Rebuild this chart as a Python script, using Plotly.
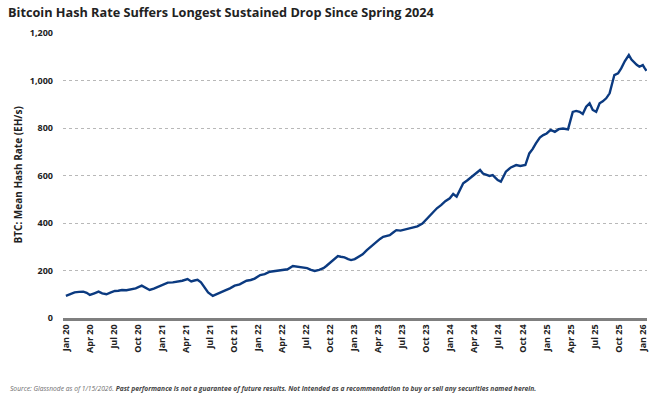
import plotly.graph_objects as go

dates = [
    "2020-01-01", "2020-01-18", "2020-02-03", "2020-02-20", "2020-03-07", "2020-03-20", "2020-04-01",
    "2020-04-18", "2020-05-04", "2020-05-18", "2020-06-03", "2020-06-20", "2020-07-05", "2020-07-18",
    "2020-08-01", "2020-08-18", "2020-09-06", "2020-09-22", "2020-10-15", "2020-10-30", "2020-11-14",
    "2020-11-30", "2020-12-15", "2021-01-05", "2021-01-22", "2021-02-10", "2021-02-28", "2021-03-18",
    "2021-04-07", "2021-04-21", "2021-05-03", "2021-05-15", "2021-05-28", "2021-06-09", "2021-06-24",
    "2021-07-12", "2021-07-28", "2021-08-10", "2021-08-26", "2021-09-15", "2021-10-03", "2021-10-22",
    "2021-11-05", "2021-11-17", "2021-12-03", "2021-12-18", "2022-01-08", "2022-01-25", "2022-02-14",
    "2022-03-05", "2022-03-20", "2022-04-04", "2022-04-22", "2022-05-12", "2022-05-28", "2022-06-18",
    "2022-07-05", "2022-07-20", "2022-08-03", "2022-08-20", "2022-09-05", "2022-09-16", "2022-10-05",
    "2022-10-18", "2022-10-30", "2022-11-10", "2022-11-24", "2022-12-08", "2022-12-19", "2023-01-02",
    "2023-01-14", "2023-02-01", "2023-02-17", "2023-03-08", "2023-03-27", "2023-04-08", "2023-04-20",
    "2023-05-02", "2023-05-15", "2023-05-28", "2023-06-09", "2023-06-25", "2023-07-16", "2023-07-28",
    "2023-08-11", "2023-08-28", "2023-09-16", "2023-10-05", "2023-10-26", "2023-11-10", "2023-11-27",
    "2023-12-12", "2023-12-29", "2024-01-11", "2024-01-24", "2024-02-05", "2024-02-18", "2024-03-05",
    "2024-03-26", "2024-04-10", "2024-04-22", "2024-05-03", "2024-05-15", "2024-05-28", "2024-06-09",
    "2024-06-28", "2024-07-10", "2024-07-29", "2024-08-17", "2024-09-06", "2024-09-22", "2024-10-11",
    "2024-10-26", "2024-11-08", "2024-11-20", "2024-12-05", "2024-12-18", "2024-12-31", "2025-01-15",
    "2025-01-31", "2025-02-15", "2025-03-03", "2025-03-22", "2025-04-09", "2025-04-22", "2025-05-05",
    "2025-05-17", "2025-05-30", "2025-06-12", "2025-06-24", "2025-07-07", "2025-07-20", "2025-08-01",
    "2025-08-14", "2025-08-27", "2025-09-05", "2025-09-14", "2025-09-28", "2025-10-10", "2025-10-24",
    "2025-11-01", "2025-11-08", "2025-11-18", "2025-11-30", "2025-12-08", "2025-12-18", "2025-12-31",
    "2026-01-07", "2026-01-14",
]

hash_rate = [
    93, 101, 108, 110, 111, 106, 97,
    104, 111, 104, 100, 108, 114, 115,
    118, 117, 121, 125, 136, 128, 118,
    124, 132, 140, 149, 150, 153, 157,
    164, 154, 158, 161, 150, 132, 108,
    93, 100, 108, 115, 125, 136, 142,
    150, 157, 160, 166, 181, 185, 195,
    198, 199, 202, 205, 219, 216, 212,
    210, 203, 198, 203, 210, 219, 238,
    252, 261, 258, 255, 248, 244, 248,
    255, 268, 286, 305, 324, 333, 342,
    344, 349, 360, 370, 368, 373, 377,
    380, 386, 398, 420, 447, 462, 476,
    492, 504, 522, 511, 540, 567, 580,
    598, 612, 623, 608, 602, 598, 602,
    581, 574, 616, 634, 644, 640, 644,
    693, 712, 735, 760, 770, 777, 792,
    784, 795, 798, 794, 868, 872, 868,
    859, 890, 904, 876, 868, 904, 912,
    925, 946, 985, 1023, 1030, 1051, 1082,
    1097, 1107, 1088, 1072, 1066, 1058, 1065,
    1052, 1041,
]

tick_dates = [
    "2020-01-01", "2020-04-01", "2020-07-01", "2020-10-01",
    "2021-01-01", "2021-04-01", "2021-07-01", "2021-10-01",
    "2022-01-01", "2022-04-01", "2022-07-01", "2022-10-01",
    "2023-01-01", "2023-04-01", "2023-07-01", "2023-10-01",
    "2024-01-01", "2024-04-01", "2024-07-01", "2024-10-01",
    "2025-01-01", "2025-04-01", "2025-07-01", "2025-10-01",
    "2026-01-01",
]
tick_labels = [
    "Jan 20", "Apr 20", "Jul 20", "Oct 20",
    "Jan 21", "Apr 21", "Jul 21", "Oct 21",
    "Jan 22", "Apr 22", "Jul 22", "Oct 22",
    "Jan 23", "Apr 23", "Jul 23", "Oct 23",
    "Jan 24", "Apr 24", "Jul 24", "Oct 24",
    "Jan 25", "Apr 25", "Jul 25", "Oct 25",
    "Jan 26",
]
y_ticks = [0, 200, 400, 600, 800, 1000, 1200]

title_text = "Bitcoin Hash Rate Suffers Longest Sustained Drop Since Spring 2024"
y_title = "BTC: Mean Hash Rate (EH/s)"
source_text = "Source: Glassnode as of 1/15/2026. "
disclaimer_text = ("Past performance is not a guarantee of future results. "
                   "Not intended as a recommendation to buy or sell any securities named herein.")

FONT = "Open Sans"
DARK = "#222222"

W, H = 658, 399
ML, MR, MT, MB = 63, 11, 33, 81
plot_w = W - ML - MR
plot_h = H - MT - MB

fig = go.Figure()
fig.add_trace(go.Scatter(
    x=dates, y=hash_rate, mode="lines",
    line=dict(color="#0b3a80", width=2.4),
    hoverinfo="skip", showlegend=False,
))

fig.update_layout(
    width=W, height=H,
    margin=dict(l=ML, r=MR, t=MT, b=MB, autoexpand=False),
    paper_bgcolor="white", plot_bgcolor="white",
    font=dict(family=FONT, color=DARK),
    showlegend=False,
    xaxis=dict(
        type="date",
        range=["2019-12-21", "2026-01-16"],
        tickmode="array", tickvals=tick_dates, ticktext=tick_labels,
        tickangle=-90,
        tickfont=dict(family=FONT, size=9, color=DARK, weight="bold"),
        showgrid=False, zeroline=False,
        showline=True, linecolor="#7f7f7f", linewidth=2.5,
        ticks="", automargin=False,
    ),
    yaxis=dict(
        range=[0, 1200],
        tickmode="array", tickvals=y_ticks,
        tickformat=",",
        tickfont=dict(family=FONT, size=9, color=DARK, weight="bold"),
        showgrid=True, gridcolor="#b8b8b8", griddash="dot", gridwidth=1,
        zeroline=False, showline=False, ticks="",
        ticklabelstandoff=9, automargin=False,
    ),
    title=dict(
        text=title_text, x=8 / W, xanchor="left", xref="container",
        y=1 - 12.5 / H, yanchor="middle", yref="container",
        pad=dict(l=0, t=0, b=0, r=0),
        font=dict(family=FONT, size=12.7, color=DARK, weight="bold"),
    ),
)

# Y-axis title, placed as rotated text left of the tick labels
fig.add_annotation(
    xref="paper", yref="paper",
    x=(17 - ML) / plot_w, y=0.5,
    xanchor="center", yanchor="middle",
    textangle=-90, showarrow=False,
    text="<b>" + y_title + "</b>",
    font=dict(family=FONT, size=10, color=DARK),
)

fig.add_annotation(
    xref="paper", yref="paper",
    x=-(ML - 8) / plot_w, y=-71 / plot_h,
    xanchor="left", yanchor="middle",
    showarrow=False,
    text=("<i><span style='color:#6d6d6d'>" + source_text + "</span>"
          "<b>" + disclaimer_text + "</b></i>"),
    font=dict(family=FONT, size=6.7, color="#444444"),
)

# Remove the browser's default 8px page margin so the figure sits at the window's corner.
fig.write_html("out.html", config={"displayModeBar": False},
               post_script="document.body.style.margin='0';")
